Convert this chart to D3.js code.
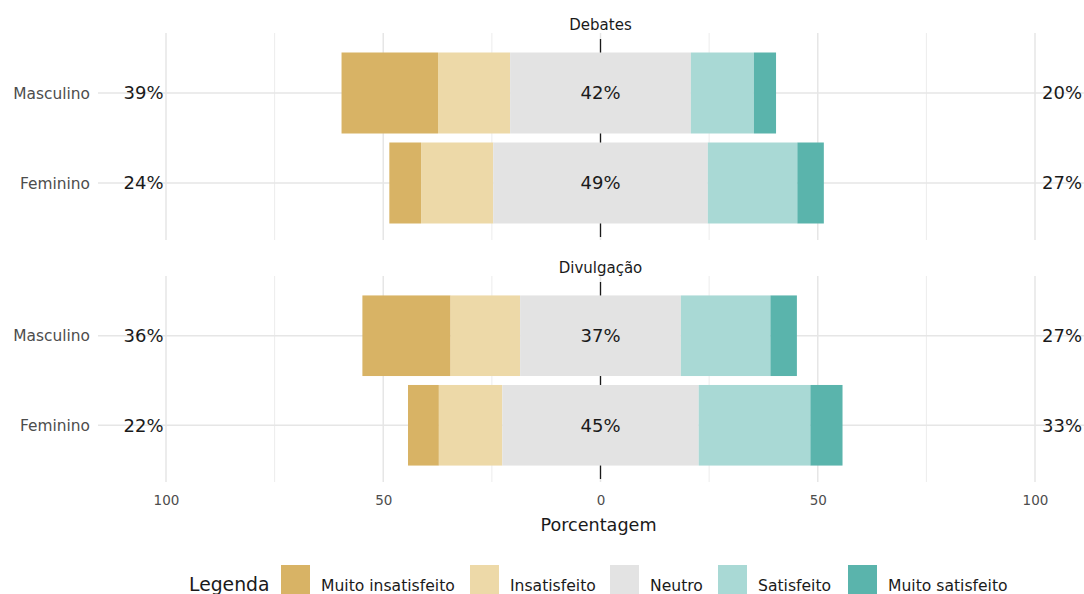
<!DOCTYPE html>
<html><head><meta charset="utf-8">
<script src="https://cdn.jsdelivr.net/npm/d3@7"></script>
<style>body{margin:0;background:#fff}svg{display:block;font-family:"DejaVu Sans",sans-serif}</style>
</head><body><svg id="c" width="1084" height="594"></svg>
<script>
// ---- data ----
const levels = ["Muito insatisfeito","Insatisfeito","Neutro","Satisfeito","Muito satisfeito"];
const colors = ["#D8B365","#EDD9A8","#E3E3E3","#A9D9D5","#5AB4AC"];
const facets = ["Debates","Divulgação"];
const groups = ["Masculino","Feminino"];
// order: Debates-Masculino, Debates-Feminino, Divulgação-Masculino, Divulgação-Feminino
const muitoInsatisfeito = [22.2, 7.3, 20.3, 7.1];
const insatisfeito      = [16.6, 16.6, 16.0, 14.6];
const neutro            = [41.6, 49.4, 37.0, 45.2];
const satisfeito        = [14.5, 20.6, 20.6, 25.7];
const muitoSatisfeito   = [5.1, 6.1, 6.1, 7.4];
const xTicks = [-100,-50,0,50,100];
const xMinor = [-75,-25,25,75];
const xTitle = "Porcentagem";
const legendTitle = "Legenda";

const svg = d3.select("#c");
const x = d3.scaleLinear().domain([-100,100]).range([166,1035]);
const panelLeft = 98, panelRight = 1084;
const panels = [{top:39,bottom:237},{top:282,bottom:479}];
const color = d3.scaleOrdinal().domain(levels).range(colors);

const series = [muitoInsatisfeito, insatisfeito, neutro, satisfeito, muitoSatisfeito];

facets.forEach((f, fi) => {
  const p = panels[fi];
  const y = d3.scalePoint().domain(groups).range([p.top,p.bottom]).padding(0.6);
  const bh = y.step()*0.9;
  const g = svg.append("g");
  // grid
  xMinor.forEach(v => g.append("line").attr("x1",x(v)).attr("x2",x(v))
     .attr("y1",p.top-6).attr("y2",p.bottom+3).attr("stroke","#ececec").attr("stroke-width",1));
  xTicks.forEach(v => g.append("line").attr("x1",x(v)).attr("x2",x(v))
     .attr("y1",p.top-6).attr("y2",p.bottom+3).attr("stroke","#e6e6e6").attr("stroke-width",1.5));
  groups.forEach(gr => g.append("line").attr("x1",panelLeft).attr("x2",panelRight)
     .attr("y1",y(gr)).attr("y2",y(gr)).attr("stroke","#e6e6e6").attr("stroke-width",1.5));
  // zero line
  g.append("line").attr("x1",x(0)).attr("x2",x(0)).attr("y1",p.top).attr("y2",p.bottom)
     .attr("stroke","#1a1a1a").attr("stroke-width",1.3);
  // bars
  groups.forEach((gr, gi) => {
    const idx = fi*2+gi;
    const vals = series.map(s => s[idx]);
    let start = -(vals[0]+vals[1]+vals[2]/2);
    vals.forEach((v, li) => {
      g.append("rect").attr("x",x(start)).attr("width",x(start+v)-x(start))
        .attr("y",y(gr)-bh/2).attr("height",bh).attr("fill",color(levels[li]));
      start += v;
    });
    const low = Math.round(vals[0]+vals[1]);
    const mid = Math.round(vals[2]);
    const high = Math.round(vals[3]+vals[4]);
    g.append("text").attr("x",x(-100)-2.5).attr("y",y(gr)).attr("dy","0.36em")
      .attr("text-anchor","end").attr("font-size",18).attr("fill","#1a1a1a").text(low+"%");
    g.append("text").attr("x",x(0)).attr("y",y(gr)).attr("dy","0.36em")
      .attr("text-anchor","middle").attr("font-size",18).attr("fill","#1a1a1a").text(mid+"%");
    g.append("text").attr("x",x(100)+7).attr("y",y(gr)).attr("dy","0.36em")
      .attr("text-anchor","start").attr("font-size",18).attr("fill","#1a1a1a").text(high+"%");
    g.append("text").attr("x",90).attr("y",y(gr)).attr("dy","0.36em")
      .attr("text-anchor","end").attr("font-size",15.4).attr("fill","#4d4d4d").text(gr);
  });
  // strip
  g.append("text").attr("x",x(0)).attr("y",p.top-14).attr("dy","0.36em")
    .attr("text-anchor","middle").attr("font-size",15).attr("fill","#1a1a1a").text(f);
});

// x axis labels
const ax = svg.append("g").attr("transform","translate(0,500)");
ax.call(d3.axisBottom(x).tickValues(xTicks).tickSize(0).tickFormat(d => Math.abs(d)));
ax.select(".domain").remove();
ax.selectAll("text").attr("y",0).attr("dy","0.36em").attr("font-size",13.5)
  .attr("fill","#4d4d4d").attr("font-family","DejaVu Sans");
svg.append("text").attr("x",x(0)-2).attr("y",525).attr("dy","0.36em").attr("text-anchor","middle")
  .attr("font-size",17.6).attr("fill","#1a1a1a").text(xTitle);

// legend
const lg = svg.append("g");
lg.append("text").attr("x",189).attr("y",584).attr("dy","0.36em").attr("font-size",18.8)
  .attr("fill","#1a1a1a").text(legendTitle);
const keyX = [281,470,610,718,848];
levels.forEach((l, i) => {
  lg.append("rect").attr("x",keyX[i]).attr("y",565).attr("width",29).attr("height",29).attr("fill",color(l));
  lg.append("text").attr("x",keyX[i]+40).attr("y",585).attr("dy","0.36em").attr("font-size",15.6)
    .attr("fill","#1a1a1a").text(l);
});
</script></body></html>
